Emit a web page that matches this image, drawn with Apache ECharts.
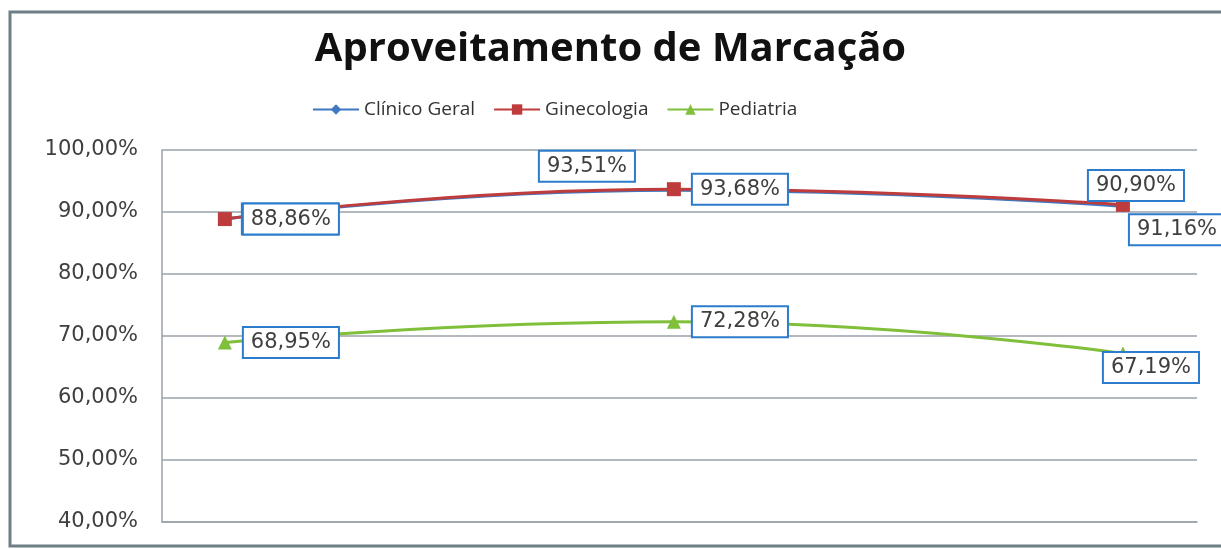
<!DOCTYPE html>
<html>
<head>
<meta charset="utf-8">
<script src="https://cdn.jsdelivr.net/npm/echarts@6/dist/echarts.min.js"></script>
<style>
	html, body { margin: 0; padding: 0; background: #fff; }
	#chart { width: 1221px; height: 549px; }
</style>
</head>
<body>
<div id="chart"></div>
<script>
// pontos no eixo x (sem rotulos no original)
var pontos = [1, 2, 3];
var clinicoGeral = [88.86, 93.51, 90.90];
var ginecologia = [88.86, 93.68, 91.16];
var pediatria = [68.95, 72.28, 67.19];
var yTicks = { min: 40, max: 100, step: 10 };

function pct(v){
	return v.toFixed(2).replace('.', ',') + '%';
}

function pares(vals){
	return vals.map(function(v, i){ return [pontos[i], v]; });
}

function caixa(){
	return {
		show: true,
		position: 'right',
		distance: 12,
		formatter: function(p){ return pct(p.value[1]); },
		fontFamily: 'DejaVu Sans',
		fontSize: 21,
		color: '#3f3f3f',
		backgroundColor: '#fff',
		borderColor: '#2b7ccc',
		borderWidth: 2,
		padding: [5, 7, 3, 7]
	};
}

// deslocamento de cada rotulo, como no grafico original
function rotulos(vals, offs){
	return pares(vals).map(function(d, i){
		var lb = caixa();
		lb.offset = offs[i];
		return { value: d, label: lb };
	});
}

var myChart = echarts.init(document.getElementById('chart'));
myChart.setOption({
	animation: false,
	backgroundColor: '#fff',
	graphic: [{
		type: 'rect',
		shape: { x: 10, y: 12, width: 1240, height: 534 },
		style: { fill: 'none', stroke: '#6f7f86', lineWidth: 3 },
		z: 100
	}],
	title: {
		text: 'Aproveitamento de Marcação',
		left: 'center',
		top: 25,
		textStyle: { fontFamily: 'Open Sans', fontWeight: 'bold', fontSize: 40, color: '#111' }
	},
	legend: {
		top: 95,
		left: 307,
		itemWidth: 46,
		itemHeight: 13,
		itemGap: 18,
		textStyle: { fontFamily: 'Open Sans', fontSize: 19, color: '#333' }
	},
	grid: { left: 162, right: 24, top: 150, bottom: 27 },
	xAxis: {
		type: 'value',
		min: 0.86,
		max: 3.165,
		axisLabel: { show: false },
		axisTick: { show: false },
		splitLine: { show: false },
		axisLine: { show: true, lineStyle: { color: '#9aa2a8', width: 1.5 } }
	},
	yAxis: {
		type: 'value',
		min: yTicks.min,
		max: yTicks.max,
		interval: yTicks.step,
		axisLine: { show: true, lineStyle: { color: '#9aa2a8', width: 1.5 } },
		axisTick: { show: false },
		axisLabel: {
			margin: 24,
			fontFamily: 'DejaVu Sans',
			fontSize: 21,
			color: '#3f3f3f',
			formatter: function(v){ return pct(v); }
		},
		splitLine: { lineStyle: { color: '#9aa2a8', width: 1.5 } }
	},
	series: [{
		name: 'Clínico Geral',
		type: 'line',
		smooth: true,
		symbol: 'diamond',
		symbolSize: 12,
		color: '#3f78c0',
		lineStyle: { width: 3 },
		data: rotulos(clinicoGeral, [[0, 0], [-152, -24], [-52, -21]])
	}, {
		name: 'Ginecologia',
		type: 'line',
		smooth: true,
		symbol: 'rect',
		symbolSize: 14,
		color: '#bf3c3c',
		lineStyle: { width: 3 },
		data: rotulos(ginecologia, [[0, 0], [0, 0], [-12, 25]])
	}, {
		name: 'Pediatria',
		type: 'line',
		smooth: true,
		symbol: 'triangle',
		symbolSize: 14,
		color: '#7fbf3a',
		lineStyle: { width: 3 },
		data: rotulos(pediatria, [[0, 0], [0, 0], [-38, 14]])
	}]
});
</script>
</body>
</html>
